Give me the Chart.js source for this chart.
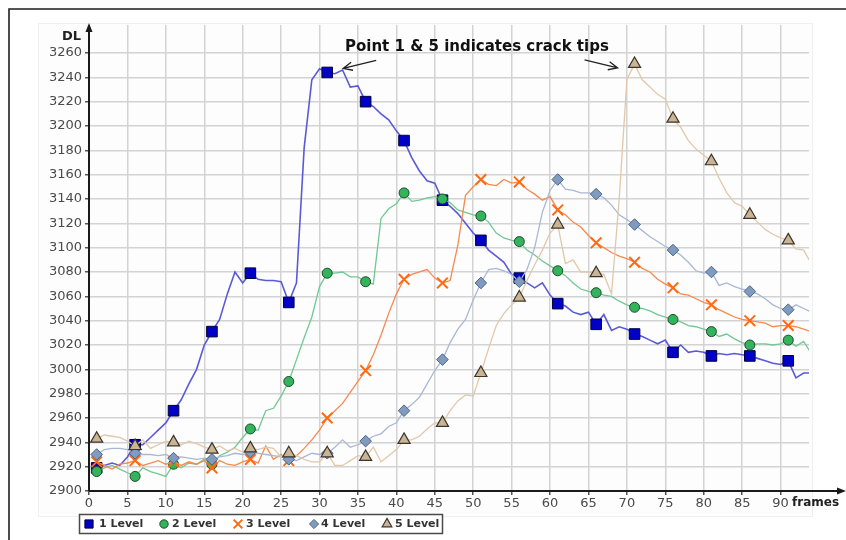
<!DOCTYPE html>
<html>
<head>
<meta charset="utf-8">
<script src="https://cdn.jsdelivr.net/npm/chart.js@4.4.1/dist/chart.umd.min.js"></script>
<style>
  html, body { margin: 0; padding: 0; background: #fff; }
  #wrap { width: 846px; height: 540px; position: relative; }
</style>
</head>
<body>
<div id="wrap"><canvas id="c" width="846" height="540"></canvas></div>
<script>
// Frame index of every sample
const frames = [
  1, 2, 3, 4, 5, 6, 7, 8, 9, 10, 11, 12, 13, 14, 15, 16, 17, 18, 19, 20,
  21, 22, 23, 24, 25, 26, 27, 28, 29, 30, 31, 32, 33, 34, 35, 36, 37, 38, 39, 40,
  41, 42, 43, 44, 45, 46, 47, 48, 49, 50, 51, 52, 53, 54, 55, 56, 57, 58, 59, 60,
  61, 62, 63, 64, 65, 66, 67, 68, 69, 70, 71, 72, 73, 74, 75, 76, 77, 78, 79, 80,
  81, 82, 83, 84, 85, 86, 87, 88, 89, 90, 91, 92, 93, 94
];

// DL readings per level
const level1 = [
  2919, 2921, 2923, 2921, 2928, 2938, 2938, 2944, 2950, 2956, 2966, 2975, 2988, 3000, 3020, 3031, 3041, 3062, 3080, 3071,
  3079, 3074, 3073, 3073, 3072, 3055, 3071, 3182, 3238, 3247, 3244, 3243, 3246, 3232, 3233, 3220, 3216, 3210, 3205, 3196,
  3188, 3174, 3163, 3155, 3153, 3139, 3134, 3128, 3120, 3112, 3106, 3098, 3093, 3088, 3078, 3075, 3071, 3067, 3071, 3061,
  3054, 3052, 3047, 3045, 3047, 3037, 3045, 3032, 3035, 3033, 3029, 3027, 3024, 3021, 3024, 3014, 3020, 3014, 3015, 3014,
  3011, 3013, 3012, 3013, 3012, 3011, 3009, 3007, 3005, 3004, 3007, 2993, 2997, 2997
];
const level2 = [
  2916, 2919, 2921, 2918, 2915, 2912, 2919, 2916, 2914, 2912, 2922, 2919, 2923, 2922, 2926, 2922, 2929, 2932, 2936, 2944,
  2951, 2950, 2966, 2968, 2978, 2990, 3008, 3026, 3043, 3068, 3079, 3079, 3080, 3076, 3076, 3072, 3070, 3124, 3132, 3136,
  3145, 3138, 3139, 3141, 3142, 3140, 3137, 3131, 3129, 3127, 3126, 3121, 3112, 3108, 3106, 3105, 3098, 3094, 3089, 3085,
  3081, 3077, 3071, 3066, 3064, 3063, 3061, 3060, 3056, 3053, 3051, 3050, 3048, 3045, 3043, 3041, 3039, 3036, 3035, 3033,
  3031, 3027, 3029, 3025, 3022, 3020, 3021, 3021, 3020, 3021, 3024, 3019, 3023, 3013
];
const level3 = [
  2924, 2921, 2918, 2922, 2923, 2925, 2921, 2923, 2925, 2922, 2924, 2921, 2924, 2922, 2925, 2919, 2925, 2922, 2921, 2924,
  2926, 2923, 2937, 2926, 2930, 2925, 2929, 2935, 2942, 2950, 2960, 2966, 2972, 2981, 2990, 2999, 3012, 3028, 3046, 3062,
  3074, 3078, 3080, 3082, 3075, 3071, 3073, 3102, 3143, 3150, 3156, 3152, 3151, 3156, 3153, 3154, 3148, 3144, 3139, 3142,
  3131, 3127, 3121, 3117, 3110, 3104, 3100, 3096, 3093, 3091, 3088, 3083, 3080, 3074, 3070, 3067, 3062, 3061, 3058, 3055,
  3053, 3049, 3046, 3043, 3041, 3040, 3039, 3038, 3035, 3036, 3036, 3035, 3033, 3031
];
const level4 = [
  2930, 2934, 2935, 2935, 2934, 2931, 2930, 2930, 2929, 2930, 2927, 2928, 2927, 2926, 2927, 2926, 2928, 2929, 2931, 2930,
  2932, 2931, 2930, 2929, 2928, 2926, 2925, 2928, 2931, 2930, 2931, 2936, 2942, 2936, 2938, 2941, 2945, 2947, 2953, 2956,
  2966, 2971, 2977, 2988, 2999, 3008, 3022, 3033, 3041, 3057, 3071, 3082, 3083, 3081, 3078, 3072, 3082, 3100, 3129, 3147,
  3156, 3148, 3147, 3145, 3145, 3144, 3141, 3135, 3127, 3123, 3119, 3114, 3109, 3105, 3101, 3098, 3094, 3088, 3081, 3079,
  3080, 3069, 3071, 3068, 3066, 3064, 3062, 3058, 3053, 3050, 3049, 3053, 3050, 3047
];
const level5 = [
  2943, 2946, 2945, 2944, 2941, 2937, 2942, 2935, 2938, 2941, 2940, 2938, 2941, 2939, 2936, 2934, 2937, 2933, 2935, 2932,
  2935, 2934, 2936, 2935, 2928, 2931, 2929, 2926, 2924, 2924, 2931, 2921, 2921, 2925, 2929, 2928, 2936, 2924, 2929, 2934,
  2942, 2942, 2945, 2951, 2956, 2956, 2966, 2974, 2979, 2978, 2997, 3017, 3036, 3046, 3053, 3059, 3073, 3086, 3098, 3112,
  3119, 3087, 3090, 3080, 3080, 3079, 3078, 3062, 3140, 3238, 3251, 3238, 3232, 3226, 3222, 3206, 3199, 3188, 3181, 3176,
  3171, 3157, 3145, 3137, 3134, 3127, 3121, 3115, 3111, 3108, 3106, 3099, 3098, 3087
];

const seriesNames = ['1 Level', '2 Level', '3 Level', '4 Level', '5 Level'];
const xTickValues = [0, 5, 10, 15, 20, 25, 30, 35, 40, 45, 50, 55, 60, 65, 70, 75, 80, 85, 90];
const yTickValues = [2900, 2920, 2940, 2960, 2980, 3000, 3020, 3040, 3060, 3080, 3100, 3120, 3140, 3160, 3180, 3200, 3220, 3240, 3260];
const xAxisTitle = 'frames';
const yAxisTitle = 'DL';
const noteText = 'Point 1 & 5 indicates crack tips';

const FONT = '"DejaVu Sans", "Liberation Sans", sans-serif';

// Every fifth sample carries a marker
const everyFifth = r => ctx => (ctx.dataIndex % 5 === 0 ? r : 0);

function series(values, name, style, order) {
  return Object.assign({
    label: name,
    data: frames.map((f, i) => ({ x: f, y: values[i] })),
    tension: 0,
    clip: 0,
    order: order,
    pointHoverRadius: 0
  }, style);
}

const datasets = [
  series(level1, seriesNames[0], {
    borderColor: '#5a5ad8', borderWidth: 1.6,
    pointStyle: 'rect', pointRadius: everyFifth(7.5),
    pointBackgroundColor: '#0000c8', pointBorderColor: '#00003c', pointBorderWidth: 1
  }, 5),
  series(level2, seriesNames[1], {
    borderColor: '#70c893', borderWidth: 1.3,
    pointStyle: 'circle', pointRadius: everyFifth(5),
    pointBackgroundColor: '#33b35c', pointBorderColor: '#1d4d2d', pointBorderWidth: 1
  }, 4),
  series(level3, seriesNames[2], {
    borderColor: '#f7894e', borderWidth: 1.3,
    pointStyle: 'crossRot', pointRadius: everyFifth(7.5),
    pointBackgroundColor: '#ff6a10', pointBorderColor: '#ff6a10', pointBorderWidth: 2
  }, 3),
  series(level4, seriesNames[3], {
    borderColor: '#a9b8d5', borderWidth: 1.3,
    pointStyle: 'rectRot', pointRadius: everyFifth(5.8),
    pointBackgroundColor: '#7f9cc0', pointBorderColor: '#4d6484', pointBorderWidth: 1
  }, 2),
  series(level5, seriesNames[4], {
    borderColor: '#e2c8aa', borderWidth: 1.3,
    pointStyle: 'triangle', pointRadius: everyFifth(7),
    pointBackgroundColor: '#c9b496', pointBorderColor: '#3c3428', pointBorderWidth: 1.2
  }, 1)
];

function arrow(ctx, x1, y1, x2, y2) {
  const a = Math.atan2(y2 - y1, x2 - x1);
  const len = 10, spread = 0.42;
  ctx.beginPath();
  ctx.moveTo(x1, y1);
  ctx.lineTo(x2, y2);
  ctx.moveTo(x2 - len * Math.cos(a - spread), y2 - len * Math.sin(a - spread));
  ctx.lineTo(x2, y2);
  ctx.lineTo(x2 - len * Math.cos(a + spread), y2 - len * Math.sin(a + spread));
  ctx.stroke();
}

function drawMarker(ctx, ds, x, y, r) {
  const opts = {
    pointStyle: ds.pointStyle, radius: r, rotation: 0,
    borderWidth: ds.pointBorderWidth
  };
  ctx.save();
  ctx.fillStyle = ds.pointBackgroundColor;
  ctx.strokeStyle = ds.pointBorderColor;
  ctx.lineWidth = ds.pointBorderWidth;
  if (Chart.helpers && Chart.helpers.drawPoint) {
    Chart.helpers.drawPoint(ctx, opts, x, y);
  } else {
    ctx.beginPath();
    ctx.arc(x, y, r, 0, Math.PI * 2);
    ctx.fill();
    ctx.stroke();
  }
  ctx.restore();
}

const decorations = {
  id: 'decorations',
  beforeDraw(chart) {
    const ctx = chart.ctx;
    ctx.save();
    ctx.fillStyle = '#ffffff';
    ctx.fillRect(0, 0, chart.width, chart.height);
    // faint panel behind the plot
    ctx.fillStyle = '#fdfdfd';
    ctx.fillRect(38, 23, 774, 493);
    ctx.strokeStyle = '#efefef';
    ctx.lineWidth = 1;
    ctx.strokeRect(38.5, 23.5, 774, 493);
    // outer frame
    ctx.strokeStyle = '#1e1e1e';
    ctx.lineWidth = 1.6;
    ctx.beginPath();
    ctx.moveTo(9, chart.height);
    ctx.lineTo(9, 9);
    ctx.lineTo(chart.width, 9);
    ctx.stroke();
    ctx.restore();
  },
  afterDraw(chart) {
    const ctx = chart.ctx;
    const area = chart.chartArea;
    const xs = chart.scales.x, ys = chart.scales.y;
    ctx.save();

    // axes with arrow heads
    ctx.strokeStyle = '#1a1a1a';
    ctx.fillStyle = '#1a1a1a';
    ctx.lineWidth = 2;
    ctx.beginPath();
    ctx.moveTo(area.left, area.bottom);
    ctx.lineTo(area.left, area.top + 4);
    ctx.moveTo(area.left, area.bottom);
    ctx.lineTo(chart.width - 6, area.bottom);
    ctx.stroke();
    ctx.beginPath();
    ctx.moveTo(area.left, area.top - 2);
    ctx.lineTo(area.left - 3.5, area.top + 7);
    ctx.lineTo(area.left + 3.5, area.top + 7);
    ctx.closePath();
    ctx.fill();
    ctx.beginPath();
    ctx.moveTo(chart.width, area.bottom);
    ctx.lineTo(chart.width - 9, area.bottom - 3.5);
    ctx.lineTo(chart.width - 9, area.bottom + 3.5);
    ctx.closePath();
    ctx.fill();

    // axis titles
    ctx.fillStyle = '#222';
    ctx.font = 'bold 13px ' + FONT;
    ctx.textAlign = 'right';
    ctx.textBaseline = 'middle';
    ctx.fillText(yAxisTitle, area.left - 8, 37);
    ctx.font = 'bold 12px ' + FONT;
    ctx.textAlign = 'left';
    ctx.fillText(xAxisTitle, 792, 503);

    // note with arrows towards the two crack-tip peaks
    ctx.font = 'bold 15px ' + FONT;
    ctx.fillStyle = '#111';
    ctx.textAlign = 'left';
    ctx.fillText(noteText, 345, 47);
    ctx.strokeStyle = '#222';
    ctx.lineWidth = 1.3;
    const p1x = xs.getPixelForValue(frames[30]) + 16, p1y = ys.getPixelForValue(level1[30]) - 4;
    arrow(ctx, p1x + 33, p1y - 8, p1x, p1y);
    const p5x = xs.getPixelForValue(frames[70]) - 17, p5y = ys.getPixelForValue(level5[70]) + 4;
    arrow(ctx, p5x - 33, p5y - 8, p5x, p5y);

    // legend
    ctx.fillStyle = '#ffffff';
    ctx.fillRect(79, 514, 363, 19);
    ctx.strokeStyle = '#4a4a4a';
    ctx.lineWidth = 1.5;
    ctx.strokeRect(79.5, 514.5, 363, 19);
    const iconX = [89, 164, 238, 314, 387];
    const textX = [99, 172, 246, 321, 395];
    const iconR = [5.8, 4.2, 6.2, 4.6, 5.6];
    ctx.font = 'bold 11px ' + FONT;
    ctx.textBaseline = 'middle';
    chart.data.datasets.forEach((ds, i) => {
      drawMarker(ctx, ds, iconX[i], 524, iconR[i]);
      ctx.fillStyle = '#333';
      ctx.fillText(ds.label, textX[i], 524.5);
    });
    ctx.restore();
  }
};

new Chart(document.getElementById('c'), {
  type: 'line',
  data: { datasets },
  options: {
    responsive: false,
    animation: false,
    events: [],
    layout: { padding: { top: 25, right: 37, left: 0, bottom: 0 } },
    plugins: { legend: { display: false }, tooltip: { enabled: false } },
    scales: {
      x: {
        type: 'linear',
        min: 0,
        max: 93.7,
        afterBuildTicks: s => { s.ticks = xTickValues.map(v => ({ value: v })); },
        afterFit: s => { s.height = 49; },
        grid: { color: '#d3d3d3', lineWidth: 1.5, drawTicks: true, tickLength: 4, tickColor: '#555' },
        border: { display: false },
        ticks: { color: '#4a4a4a', font: { family: FONT, size: 13 }, padding: 1, maxRotation: 0, autoSkip: false,
                 callback: v => String(v) }
      },
      y: {
        type: 'linear',
        min: 2900,
        max: 3283,
        afterBuildTicks: s => { s.ticks = yTickValues.map(v => ({ value: v })); },
        afterFit: s => { s.width = 89; },
        grid: { color: '#d3d3d3', lineWidth: 1.5, drawTicks: true, tickLength: 4, tickColor: '#555' },
        border: { display: false },
        ticks: { color: '#4a4a4a', font: { family: FONT, size: 13 }, padding: 3, autoSkip: false,
                 callback: v => String(v) }
      }
    }
  },
  plugins: [decorations]
});
</script>
</body>
</html>
